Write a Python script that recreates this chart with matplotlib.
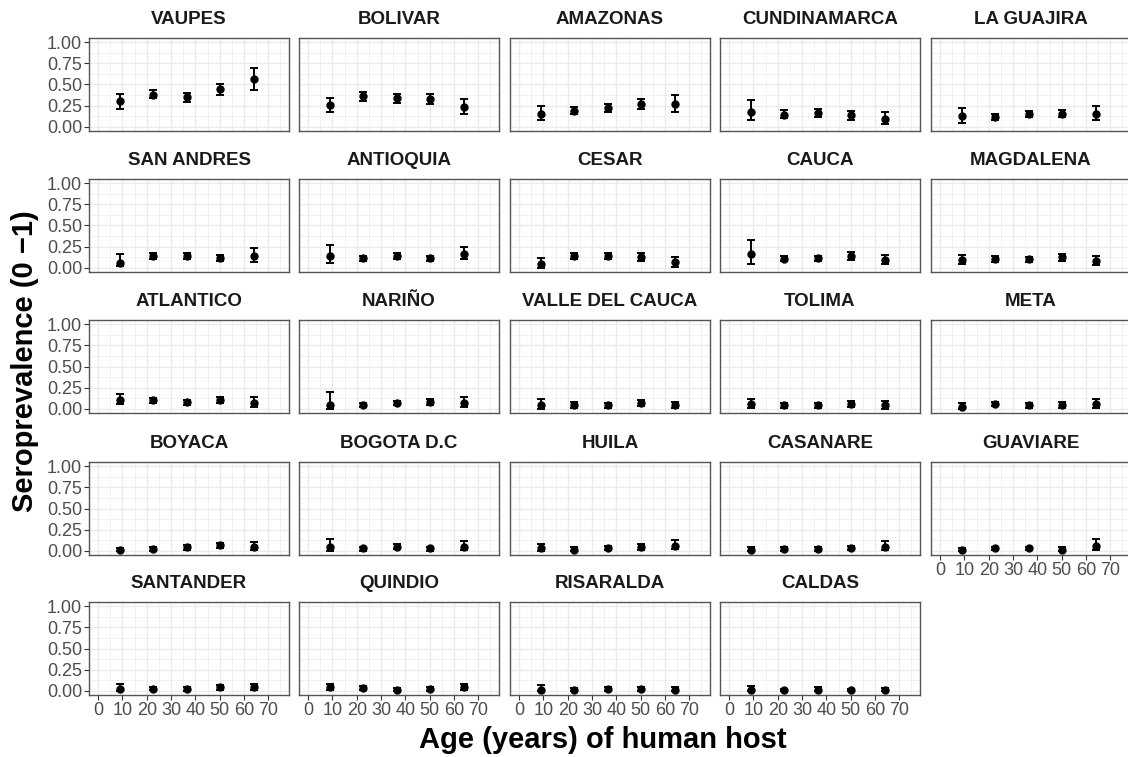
import numpy as np
import matplotlib.pyplot as plt
from matplotlib import font_manager

plt.rcParams['font.family'] = ['Liberation Sans', 'DejaVu Sans']
installed = {f.name for f in font_manager.fontManager.ttflist}
narrow = 'Liberation Sans Narrow' if 'Liberation Sans Narrow' in installed else 'Liberation Sans'

regions = ["VAUPES", "BOLIVAR", "AMAZONAS", "CUNDINAMARCA", "LA GUAJIRA",
           "SAN ANDRES", "ANTIOQUIA", "CESAR", "CAUCA", "MAGDALENA",
           "ATLANTICO", "NARIÑO", "VALLE DEL CAUCA", "TOLIMA", "META",
           "BOYACA", "BOGOTA D.C", "HUILA", "CASANARE", "GUAVIARE",
           "SANTANDER", "QUINDIO", "RISARALDA", "CALDAS"]

ages = [9.0, 22.7, 36.6, 50.3, 64.2]

prev = [
    [0.30, 0.38, 0.35, 0.45, 0.565],
    [0.255, 0.36, 0.34, 0.325, 0.23],
    [0.15, 0.19, 0.22, 0.27, 0.27],
    [0.18, 0.145, 0.165, 0.14, 0.09],
    [0.125, 0.12, 0.15, 0.15, 0.15],
    [0.06, 0.14, 0.135, 0.115, 0.14],
    [0.145, 0.11, 0.135, 0.11, 0.165],
    [0.05, 0.14, 0.135, 0.125, 0.065],
    [0.16, 0.105, 0.11, 0.14, 0.09],
    [0.095, 0.105, 0.10, 0.125, 0.08],
    [0.10, 0.10, 0.075, 0.105, 0.065],
    [0.05, 0.045, 0.065, 0.08, 0.07],
    [0.04, 0.045, 0.04, 0.065, 0.04],
    [0.06, 0.04, 0.04, 0.06, 0.045],
    [0.025, 0.055, 0.045, 0.045, 0.06],
    [0.01, 0.025, 0.04, 0.065, 0.05],
    [0.04, 0.03, 0.05, 0.03, 0.05],
    [0.03, 0.015, 0.035, 0.045, 0.06],
    [0.015, 0.025, 0.025, 0.03, 0.05],
    [0.005, 0.03, 0.03, 0.015, 0.06],
    [0.025, 0.025, 0.02, 0.045, 0.04],
    [0.04, 0.035, 0.01, 0.02, 0.045],
    [0.01, 0.01, 0.02, 0.02, 0.015],
    [0.015, 0.005, 0.015, 0.005, 0.005],
]

lower = [
    [0.21, 0.34, 0.29, 0.38, 0.43],
    [0.18, 0.305, 0.285, 0.27, 0.15],
    [0.08, 0.15, 0.17, 0.21, 0.17],
    [0.08, 0.10, 0.12, 0.085, 0.03],
    [0.05, 0.085, 0.115, 0.11, 0.08],
    [0.02, 0.10, 0.10, 0.08, 0.07],
    [0.06, 0.08, 0.10, 0.08, 0.10],
    [0.0, 0.10, 0.10, 0.08, 0.01],
    [0.05, 0.075, 0.08, 0.09, 0.04],
    [0.04, 0.07, 0.065, 0.085, 0.03],
    [0.055, 0.065, 0.045, 0.07, 0.02],
    [0.0, 0.025, 0.04, 0.05, 0.025],
    [0.0, 0.015, 0.01, 0.03, 0.005],
    [0.015, 0.01, 0.015, 0.025, 0.0],
    [0.0, 0.03, 0.015, 0.015, 0.01],
    [0.0, 0.0, 0.015, 0.035, 0.015],
    [0.0, 0.0, 0.02, 0.0, 0.01],
    [0.0, 0.0, 0.01, 0.015, 0.02],
    [0.0, 0.0, 0.0, 0.005, 0.01],
    [0.0, 0.005, 0.005, 0.0, 0.015],
    [0.0, 0.005, 0.0, 0.015, 0.005],
    [0.005, 0.01, 0.0, 0.0, 0.01],
    [0.0, 0.0, 0.0, 0.0, 0.0],
    [0.0, 0.0, 0.0, 0.0, 0.0],
]

upper = [
    [0.39, 0.435, 0.40, 0.51, 0.70],
    [0.34, 0.415, 0.39, 0.385, 0.33],
    [0.24, 0.23, 0.27, 0.325, 0.37],
    [0.32, 0.195, 0.21, 0.185, 0.17],
    [0.22, 0.15, 0.185, 0.195, 0.24],
    [0.165, 0.17, 0.17, 0.15, 0.23],
    [0.275, 0.14, 0.17, 0.145, 0.245],
    [0.115, 0.175, 0.17, 0.17, 0.13],
    [0.33, 0.135, 0.145, 0.185, 0.15],
    [0.155, 0.135, 0.13, 0.165, 0.145],
    [0.17, 0.13, 0.105, 0.145, 0.14],
    [0.195, 0.07, 0.09, 0.11, 0.14],
    [0.12, 0.075, 0.065, 0.10, 0.085],
    [0.115, 0.065, 0.07, 0.09, 0.095],
    [0.065, 0.08, 0.07, 0.075, 0.12],
    [0.035, 0.045, 0.065, 0.09, 0.10],
    [0.145, 0.05, 0.08, 0.05, 0.115],
    [0.08, 0.04, 0.06, 0.075, 0.125],
    [0.045, 0.045, 0.045, 0.055, 0.12],
    [0.035, 0.05, 0.05, 0.04, 0.135],
    [0.085, 0.04, 0.04, 0.07, 0.075],
    [0.075, 0.06, 0.03, 0.04, 0.08],
    [0.065, 0.035, 0.04, 0.04, 0.05],
    [0.06, 0.02, 0.04, 0.02, 0.03],
]

W, H = 1128, 757
fig = plt.figure(figsize=(W / 100, H / 100), dpi=100)

col_left = [89, 299, 510, 720, 931]
row_top = [38, 179, 320, 462, 602]
pw, ph = 200, 93

for i, name in enumerate(regions):
    r, c = divmod(i, 5)
    ax = fig.add_axes([col_left[c] / W, 1 - (row_top[r] + ph) / H, pw / W, ph / H])

    p = np.array(prev[i])
    lo = np.array(lower[i])
    hi = np.array(upper[i])
    ax.errorbar(ages, p, yerr=[p - lo, hi - p], fmt="o", color="black",
                ms=5, capsize=3, elinewidth=1.4, capthick=1.4, zorder=3)

    ax.set_xlim(-3.75, 78.5)
    ax.set_ylim(-0.05, 1.05)
    ax.set_xticks(range(0, 80, 10))
    ax.set_xticks(range(5, 80, 10), minor=True)
    ax.set_yticks([0, 0.25, 0.5, 0.75, 1.0])
    ax.set_yticklabels(["0.00", "0.25", "0.50", "0.75", "1.00"])
    ax.set_yticks([0.125, 0.375, 0.625, 0.875], minor=True)
    ax.grid(which="major", color="#EBEBEB", lw=1.0)
    ax.grid(which="minor", color="#EBEBEB", lw=0.5)
    ax.set_axisbelow(True)

    for s in ax.spines.values():
        s.set_color("#555555")
        s.set_linewidth(1.0)

    ax.tick_params(which="minor", length=0)
    ax.tick_params(which="major", length=3.5, width=0.8, color="#333333",
                   labelcolor="#4D4D4D", pad=1.5)
    ax.tick_params(axis="y", labelsize=13)
    ax.tick_params(axis="x", labelsize=13, bottom=(i >= 19), labelbottom=(i >= 19))
    ax.tick_params(axis="y", left=(c == 0), labelleft=(c == 0))
    for lab in ax.get_xticklabels():
        lab.set_family(narrow)

    ax.text(0.5, 1.2, name, transform=ax.transAxes, ha="center", va="center",
            fontsize=13.5, fontweight="bold", color="#1A1A1A")

fig.text(25 / W, 1 - 361 / H, "Seroprevalence (0 \u22121)", rotation=90,
         ha="center", va="center", fontsize=21, fontweight="bold")
fig.text(603 / W, 1 - 740 / H, "Age (years) of human host", family=narrow,
         ha="center", va="center", fontsize=21, fontweight="bold")

fig.savefig("out.png", dpi=100)
